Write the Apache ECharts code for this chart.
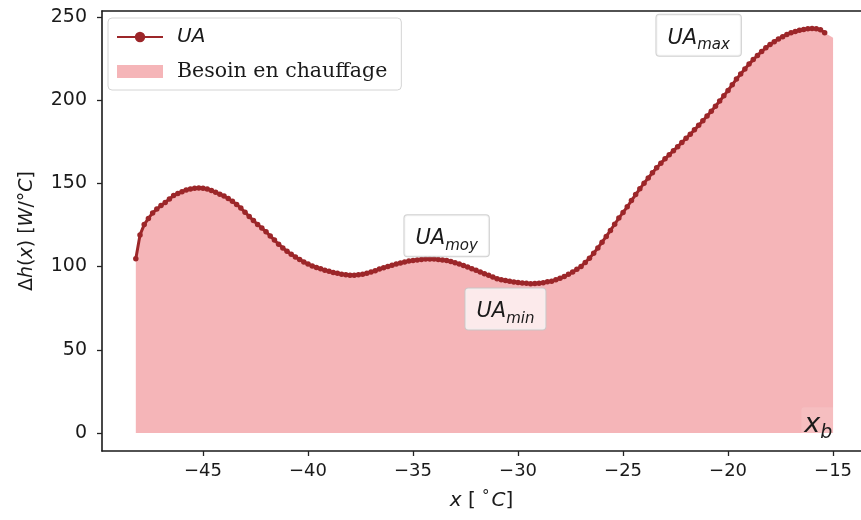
<!DOCTYPE html>
<html><head><meta charset="utf-8">
<script src="https://cdn.jsdelivr.net/npm/echarts@6/dist/echarts.min.js"></script>
<style>html,body{margin:0;padding:0;background:#fff}#c{width:861px;height:520px}</style>
</head><body><div id="c"></div>
<script>
// ---- data ----
const xStart = -48.2, xStep = 0.2;
const uaValues = [
 104.7,119.0,125.2,128.9,132.2,134.5,136.6,138.5,140.6,142.6,
 143.9,145.0,146.0,146.6,147.0,147.2,147.1,146.6,145.7,144.7,
 143.5,142.4,140.9,139.2,137.3,135.1,132.6,130.1,127.6,125.3,
 123.1,120.9,118.4,115.9,113.4,111.2,109.2,107.4,105.8,104.2,
 102.8,101.5,100.4,99.4,98.6,97.8,97.1,96.4,95.9,95.4,
 95.0,94.8,94.8,95.0,95.4,96.0,96.7,97.5,98.5,99.3,
 100.0,100.8,101.6,102.2,102.8,103.3,103.7,104.0,104.3,104.5,
 104.6,104.5,104.3,104.0,103.7,103.0,102.3,101.5,100.7,99.7,
 98.7,97.7,96.7,95.7,94.7,93.7,92.7,92.1,91.6,91.1,
 90.7,90.4,90.1,89.9,89.7,89.8,90.0,90.3,90.8,91.2,
 92.0,92.9,94.0,95.3,96.7,98.3,100.1,102.5,105.0,108.0,
 111.2,114.6,118.1,121.7,125.4,129.1,132.5,135.9,139.6,143.2,
 146.7,150.1,153.2,156.3,159.3,162.1,164.7,167.2,169.6,172.0,
 174.5,177.0,179.5,182.1,184.8,187.6,190.4,193.3,196.3,199.4,
 202.6,205.8,209.2,212.6,215.7,218.7,221.6,224.3,226.8,229.2,
 231.4,233.4,235.1,236.7,238.1,239.4,240.4,241.2,241.9,242.4,
 242.8,243.0,242.9,242.2,240.5
];
const fillEndX = -15.0, fillEndValue = 237.5;
const xTicks = [-45, -40, -35, -30, -25, -20, -15];
const yTicks = [0, 50, 100, 150, 200, 250];
const annotations = [
  {x: -33.4, y: 118.5, main: 'UA', sub: 'moy', box: true},
  {x: -30.6, y: 74.5, main: 'UA', sub: 'min', box: true},
  {x: -21.4, y: 239.0, main: 'UA', sub: 'max', box: true},
  {x: -15.7, y: 5.5, main: 'x', sub: 'b', box: false}
];

// ---- build ----
const uaData = uaValues.map((v, i) => [+(xStart + i * xStep).toFixed(2), v]);
const fillData = uaData.concat([[fillEndX, fillEndValue]]);
const lineColor = '#9c2629';
const fillColor = '#f5b5b8';
const txt = '#1a1a1a';
const X_MIN = -49.81, X_MAX = -13.67, Y_MIN = -10.8, Y_MAX = 253.5;
const spine = {show: true, onZero: false, lineStyle: {color: '#1a1a1a', width: 1.6}};

const chart = echarts.init(document.getElementById('c'), null, {renderer: 'canvas'});
chart.setOption({
  animation: false,
  backgroundColor: '#fff',
  grid: {left: 102, right: 0, top: 11, bottom: 69, show: false},
  legend: {
    orient: 'vertical', left: 108, top: 18,
    padding: [9, 14, 8, 8], itemGap: 14, itemWidth: 46, itemHeight: 13,
    borderColor: '#d4d4d4', borderWidth: 1, borderRadius: 4,
    backgroundColor: 'rgba(255,255,255,0.85)',
    data: [
      {name: 'UA', textStyle: {fontFamily: 'DejaVu Sans', fontStyle: 'italic', fontSize: 20, color: txt, padding: [0,0,0,9]}},
      {name: 'Besoin en chauffage', icon: 'rect', textStyle: {fontFamily: 'DejaVu Serif', fontSize: 20.5, color: txt, padding: [0,0,0,9]}}
    ]
  },
  xAxis: [{
    type: 'value', min: X_MIN, max: X_MAX, position: 'bottom',
    splitLine: {show: false},
    axisLine: spine,
    axisTick: {show: true, customValues: xTicks, length: 5, lineStyle: {color: '#222', width: 1.3}},
    axisLabel: {customValues: xTicks, fontFamily: 'DejaVu Sans', fontSize: 18, color: txt, margin: 11,
      formatter: v => (v < 0 ? '\u2212' + Math.abs(v) : '' + v)},
    name: '{i|x}{n| [ }{d|°}{i|C}{n|]}', nameLocation: 'middle', nameGap: 39,
    nameTextStyle: {rich: {
      i: {fontFamily: 'DejaVu Sans', fontStyle: 'italic', fontSize: 20, color: txt},
      n: {fontFamily: 'DejaVu Sans', fontSize: 20, color: txt},
      d: {fontFamily: 'DejaVu Sans', fontSize: 15, color: txt, verticalAlign: 'top', padding: [0, 2, 6, 0]}
    }}
  }, {
    type: 'value', min: X_MIN, max: X_MAX, position: 'top',
    splitLine: {show: false}, axisLine: spine, axisTick: {show: false}, axisLabel: {show: false}
  }],
  yAxis: {
    type: 'value', min: Y_MIN, max: Y_MAX,
    splitLine: {show: false},
    axisLine: spine,
    axisTick: {show: true, customValues: yTicks, length: 5, lineStyle: {color: '#222', width: 1.3}},
    axisLabel: {customValues: yTicks, fontFamily: 'DejaVu Sans', fontSize: 19, color: txt, margin: 15},
    name: '{n|Δ}{i|h}{n|(}{i|x}{n|) [}{i|W}{n|/°}{i|C}{n|]}', nameLocation: 'middle', nameGap: 65, nameRotate: 90,
    nameTextStyle: {rich: {
      i: {fontFamily: 'DejaVu Sans', fontStyle: 'italic', fontSize: 19, color: txt},
      n: {fontFamily: 'DejaVu Sans', fontSize: 19, color: txt}
    }}
  },
  series: [
    {
      name: 'Besoin en chauffage', type: 'line', data: fillData, xAxisIndex: 0,
      symbol: 'none', lineStyle: {width: 0, color: fillColor}, itemStyle: {color: fillColor},
      areaStyle: {color: fillColor, opacity: 1}, silent: true, z: 1
    },
    {
      name: 'UA', type: 'line', data: uaData, xAxisIndex: 0,
      symbol: 'circle', symbolSize: 5.5, showSymbol: true,
      lineStyle: {width: 3, color: lineColor}, itemStyle: {color: lineColor},
      silent: true, z: 3
    }
  ]
});

// annotation texts placed through the chart's own coordinate conversion
const graphics = annotations.map(a => {
  const p = chart.convertToPixel({xAxisIndex: 0, yAxisIndex: 0}, [a.x, a.y]);
  return {
    type: 'text', x: p[0], y: p[1], z: 100,
    style: {
      text: '{m|' + a.main + '}{s|' + a.sub + '}',
      align: 'center', verticalAlign: 'middle',
      backgroundColor: a.box ? 'rgba(255,255,255,0.72)' : 'rgba(255,255,255,0.12)',
      borderColor: a.box ? 'rgba(200,200,200,0.85)' : 'transparent',
      borderWidth: 1, borderRadius: 3,
      padding: a.box ? [9, 11, 7, 11] : [2, 3, 2, 3],
      rich: {
        m: {fontFamily: 'DejaVu Sans', fontStyle: 'italic', fontSize: a.box ? 21 : 27, fill: txt, verticalAlign: 'bottom', lineHeight: a.box ? 25 : 29},
        s: {fontFamily: 'DejaVu Sans', fontStyle: 'italic', fontSize: a.box ? 15 : 19, fill: txt, verticalAlign: 'bottom', lineHeight: 18, padding: [0,0,-4,0]}
      }
    }
  };
});
chart.setOption({graphic: graphics});
</script></body></html>
